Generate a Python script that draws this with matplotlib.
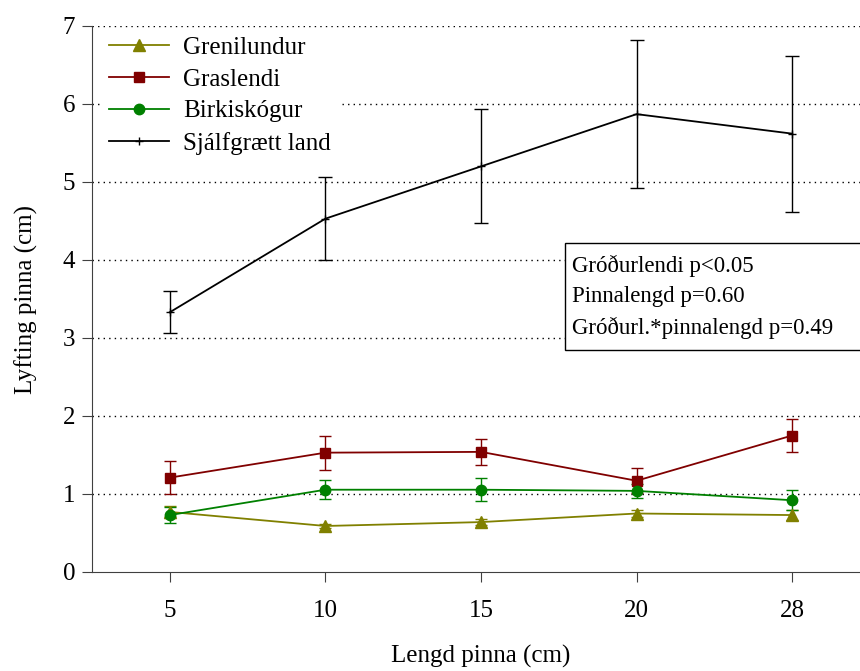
import numpy as np
import matplotlib
matplotlib.use('Agg')
import matplotlib.pyplot as plt
from matplotlib.lines import Line2D
from matplotlib.patches import Rectangle

plt.rcParams['font.family'] = ['Liberation Serif', 'DejaVu Serif']

# gögn lesin af myndinni
lengdir = ['5', '10', '15', '20', '28']

greni = [0.77, 0.59, 0.64, 0.75, 0.73]
greni_err = [0.08, 0.03, 0.04, 0.05, 0.065]

gras = [1.21, 1.53, 1.54, 1.17, 1.75]
gras_err = [0.21, 0.22, 0.17, 0.16, 0.21]

birki = [0.73, 1.055, 1.055, 1.04, 0.92]
birki_err = [0.10, 0.12, 0.15, 0.09, 0.13]

sjalf = [3.33, 4.53, 5.2, 5.87, 5.62]
sjalf_err = [0.27, 0.53, 0.73, 0.95, 1.0]

W, H = 860, 671
fig = plt.figure(figsize=(W / 100, H / 100), dpi=100)
ax = fig.add_axes([92 / W, 1 - 572 / H, 778 / W, 546 / H])

x = np.arange(len(lengdir))

handles = []
def teikna(y, err, litur, merki, ms, nafn, cap=4):
    ax.errorbar(x, y, yerr=err, color=litur, marker=merki, markersize=ms,
                linewidth=1.3, elinewidth=1.0, capsize=cap, capthick=1.0,
                zorder=3)
    handles.append(Line2D([], [], color=litur, marker=merki, markersize=ms,
                          linewidth=1.3, label=nafn))

teikna(greni, greni_err, '#808000', '^', 8, 'Grenilundur')
teikna(gras, gras_err, '#800000', 's', 7, 'Graslendi')
teikna(birki, birki_err, '#008000', 'o', 7.5, 'Birkiskógur')
teikna(sjalf, sjalf_err, 'black', '+', 6, 'Sjálfgrætt land', cap=5)

for yy in range(1, 8):
    ax.axhline(yy, color='black', linestyle=(0, (1, 3)), linewidth=1.0, zorder=1)

ax.set_xlim(-0.5, 4.5)
ax.set_ylim(0, 7)
ax.set_xticks(x)
ax.set_xticklabels(lengdir)
ax.set_yticks(range(0, 8))
ax.tick_params(labelsize=18, direction='out', length=7, color='#404040')
ax.tick_params(axis='x', pad=13)
ax.tick_params(axis='y', pad=5)
for s in ['top', 'right']:
    ax.spines[s].set_visible(False)
for s in ['left', 'bottom']:
    ax.spines[s].set_color('#404040')

ax.set_xlabel('Lengd pinna (cm)', fontsize=18, labelpad=17)
ax.set_ylabel('Lyfting pinna (cm)', fontsize=18, labelpad=18)

leg = ax.legend(handles=handles, loc='upper left', bbox_to_anchor=(0.009, 1.0),
                fontsize=18, frameon=True, framealpha=1, edgecolor='white',
                fancybox=False, handlelength=2.4, handletextpad=0.55,
                borderaxespad=0.1, labelspacing=0.38, borderpad=0.3)
leg.set_zorder(5)

# kassi með p-gildum
fig.patches.append(Rectangle((565 / W, 1 - 350 / H), 310 / W, 107 / H,
                             transform=fig.transFigure, facecolor='white',
                             edgecolor='black', linewidth=1.0, zorder=5))
fig.text(572 / W, 1 - 297 / H,
         'Gróðurlendi p<0.05\nPinnalengd p=0.60\nGróðurl.*pinnalengd p=0.49',
         fontsize=16.5, va='center', ha='left', linespacing=1.55, zorder=6)

fig.savefig('out.png', dpi=100)
